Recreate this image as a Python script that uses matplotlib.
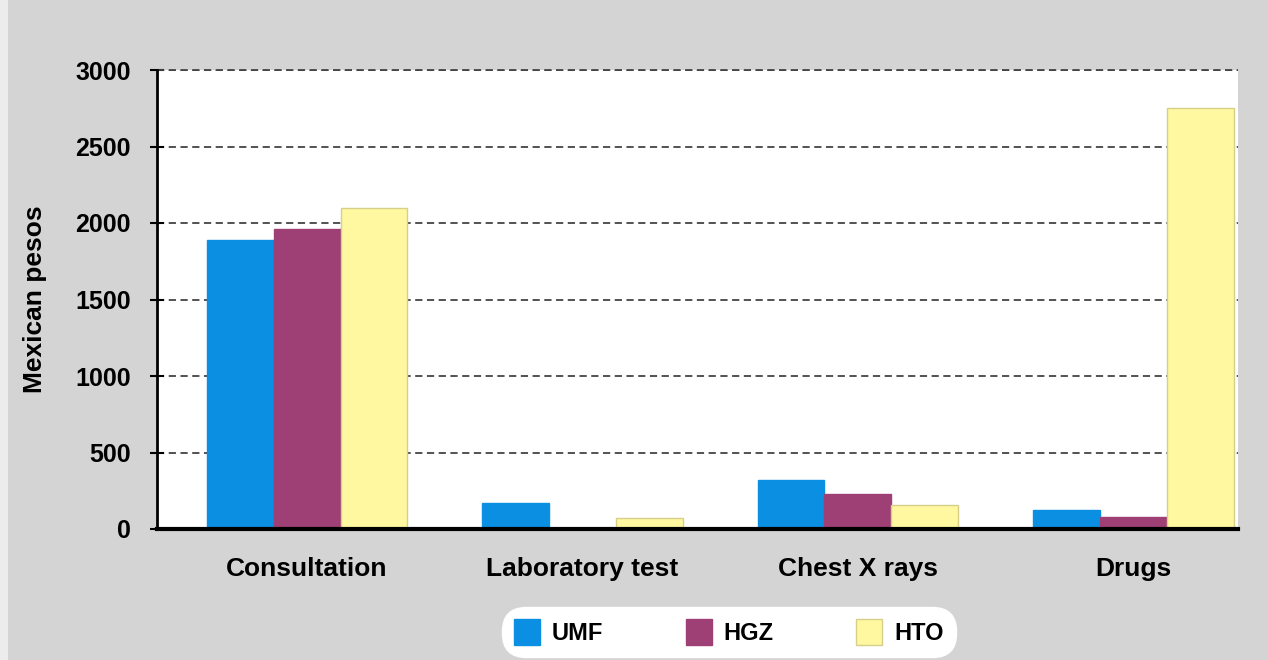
import matplotlib.pyplot as plt
import matplotlib.patches as mpatches
import numpy as np

plt.rcParams["font.family"] = ["Liberation Sans", "DejaVu Sans"]

categories = ["Consultation", "Laboratory test", "Chest X rays", "Drugs"]
series_names = ["UMF", "HGZ", "HTO"]
umf = [1890, 170, 320, 125]
hgz = [1960, 0, 230, 80]
hto = [2100, 75, 160, 2750]
y_ticks = [0, 500, 1000, 1500, 2000, 2500, 3000]

colors = ["#0a8fe2", "#9e4076", "#fff8a0"]
edges = ["#0a8fe2", "#9e4076", "#d6cf8a"]

fig = plt.figure(figsize=(12.68, 6.6), dpi=100, facecolor="#d4d4d4")
fig.patches.append(mpatches.Rectangle((0, 0), 8 / 1268, 1, transform=fig.transFigure,
                                      facecolor="#ececec", edgecolor="none", zorder=0))
ax = fig.add_axes([157 / 1268, 1 - 529 / 660, (1238 - 157) / 1268, (529 - 70) / 660])
ax.set_facecolor("white")

x = np.arange(len(categories))
width = 0.243
for i, (vals, name) in enumerate(zip([umf, hgz, hto], series_names)):
    ax.bar(x + (i - 1) * width, vals, width, color=colors[i], edgecolor=edges[i],
           linewidth=1, label=name, zorder=3)

ax.set_xlim(-0.545, 3.38)
ax.set_ylim(0, 3000)
ax.set_yticks(y_ticks)
ax.set_yticklabels([str(v) for v in y_ticks], fontsize=18, fontweight="bold")
ax.set_xticks(x)
ax.set_xticklabels(categories, fontsize=19, fontweight="bold")
ax.tick_params(axis="x", length=0, pad=20)
ax.tick_params(axis="y", direction="inout", length=10, width=1.5, pad=14)
ax.yaxis.grid(True, linestyle=(0, (4, 2.5)), color="#444444", linewidth=1.3, zorder=1)
ax.set_axisbelow(True)
for s in ["top", "right"]:
    ax.spines[s].set_visible(False)
ax.spines["left"].set_linewidth(2)
ax.spines["bottom"].set_linewidth(3)
ax.spines["bottom"].set_zorder(4)
ax.set_ylabel("Mexican pesos", fontsize=19, fontweight="bold", labelpad=20)

# dashed line at 3000 (top of the plot area)
ax.axhline(3000, linestyle=(0, (4, 2.5)), color="#444444", linewidth=1.3, zorder=1, clip_on=False)

leg = fig.legend(loc="center", bbox_to_anchor=(729 / 1268, 1 - 632 / 660), ncol=3,
                 frameon=True, fancybox=True, prop={"weight": "bold", "size": 17},
                 handlelength=1.1, handleheight=1.3, columnspacing=3.5, handletextpad=0.5,
                 borderpad=0.3, borderaxespad=0, edgecolor="white", facecolor="white",
                 framealpha=1)
leg.get_frame().set_boxstyle("round,pad=0.2,rounding_size=1.0")

fig.savefig("out.png", dpi=100, facecolor=fig.get_facecolor())
